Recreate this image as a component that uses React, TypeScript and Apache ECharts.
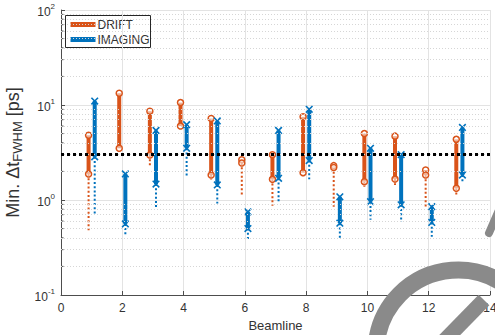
import React, { useEffect, useRef } from "react";
import * as echarts from "echarts";

const beamlines = [1, 2, 3, 4, 5, 6, 7, 8, 9, 10, 11, 12, 13];
const driftTop = [4.8, 13.3, 8.6, 10.6, 7.2, 2.65, 3.0, 7.5, 2.3, 5.0, 4.7, 2.07, 4.35];
const driftBottom = [1.88, 3.5, 2.98, 6.0, 1.83, 2.45, 1.65, 1.94, 2.2, 1.56, 1.66, 1.83, 1.33];
const driftDottedLow: (number | null)[] = [0.48, null, 2.28, null, 1.63, 1.08, 0.87, null, 0.85, 1.38, 1.44, 0.85, 1.08];
const imagingTop = [11.0, 1.88, 5.4, 6.2, 6.8, 0.75, 5.4, 9.0, 1.08, 3.5, 3.0, 0.85, 5.8];
const imagingBottom = [2.85, 0.56, 1.47, 3.5, 1.44, 0.5, 1.69, 2.6, 0.57, 0.96, 0.89, 0.58, 1.83];
const imagingDottedLow: (number | null)[] = [0.7, 0.43, 0.84, 1.76, 0.92, 0.37, 0.92, 1.65, 0.39, 0.62, 0.59, 0.41, 1.56];
const threshold = 3;
const minorGrid = [0.2, 0.3, 0.4, 0.5, 0.6, 0.7, 0.8, 0.9, 2, 3, 4, 5, 6, 7, 8, 9, 20, 30, 40, 50, 60, 70, 80, 90];
const xTicks = { min: 0, max: 14, interval: 2 };
const legendNames = ["DRIFT", "IMAGING"];

const ORANGE = "#D95319";
const BLUE = "#0072BD";
const TEXT = "#333333";
const AXIS = "#4d4d4d";
const FONT = "Liberation Sans, Arial, sans-serif";

function makeRender(top: number[], bottom: number[], low: (number | null)[], color: string, marker: "o" | "x", dx: number) {
  return (params: any, api: any) => {
    const i = params.dataIndex;
    const x = api.value(0) + dx;
    const pTop = api.coord([x, top[i]]);
    const pBot = api.coord([x, bottom[i]]);
    const children: any[] = [];
    if (low[i] != null) {
      const pLow = api.coord([x, low[i]]);
      children.push({
        type: "line",
        shape: { x1: pBot[0], y1: pBot[1], x2: pLow[0], y2: pLow[1] },
        style: { stroke: color, lineWidth: 2, lineDash: [2, 2.2], fill: null },
      });
    }
    children.push({
      type: "line",
      shape: { x1: pTop[0], y1: pTop[1], x2: pBot[0], y2: pBot[1] },
      style: { stroke: color, lineWidth: 4, fill: null },
    });
    for (const p of [pTop, pBot]) {
      if (marker === "o") {
        children.push({
          type: "circle",
          shape: { cx: p[0], cy: p[1], r: 3 },
          style: { fill: "rgba(255,255,255,0.55)", stroke: color, lineWidth: 1.5 },
        });
      } else {
        const s = 3.3;
        children.push({ type: "line", shape: { x1: p[0] - s, y1: p[1] - s, x2: p[0] + s, y2: p[1] + s }, style: { stroke: color, lineWidth: 1.6 } });
        children.push({ type: "line", shape: { x1: p[0] - s, y1: p[1] + s, x2: p[0] + s, y2: p[1] - s }, style: { stroke: color, lineWidth: 1.6 } });
      }
    }
    return { type: "group", children };
  };
}

function renderMinorTick(params: any, api: any) {
  const p = api.coord([api.value(0), api.value(1)]);
  return {
    type: "line",
    shape: { x1: p[0], y1: p[1], x2: p[0] + 2.5, y2: p[1] },
    style: { stroke: AXIS, lineWidth: 1 },
  };
}

export default function App() {
  const ref = useRef<HTMLDivElement>(null);
  useEffect(() => {
    if (!ref.current) return;
    const chart = echarts.init(ref.current, null, { renderer: "svg" });
    const driftData = beamlines.map((b, i) => [b, driftTop[i], driftBottom[i], driftDottedLow[i] ?? driftBottom[i]]);
    const imagingData = beamlines.map((b, i) => [b, imagingTop[i], imagingBottom[i], imagingDottedLow[i] ?? imagingBottom[i]]);
    const legendColors = [ORANGE, BLUE];
    chart.setOption({
      animation: false,
      backgroundColor: "#ffffff",
      textStyle: { fontFamily: FONT },
      grid: { left: 61, right: 5, top: 10, bottom: 40, containLabel: false, outerBoundsMode: "none" },
      xAxis: {
        type: "value",
        min: xTicks.min,
        max: xTicks.max,
        interval: xTicks.interval,
        name: "Beamline",
        nameLocation: "middle",
        nameGap: 24,
        nameTextStyle: { fontSize: 13, color: TEXT },
        axisLine: { show: true, lineStyle: { color: AXIS, width: 1 } },
        axisTick: { show: true, inside: true, length: 4, lineStyle: { color: AXIS } },
        axisLabel: { fontSize: 12, color: TEXT, margin: 7, hideOverlap: false },
        splitLine: { show: true, lineStyle: { color: "#e3e3e3", width: 1 } },
      },
      yAxis: {
        type: "log",
        logBase: 10,
        min: 0.1,
        max: 100,
        name: "Min. Δt{sub|FWHM} [ps]",
        nameLocation: "middle",
        nameGap: 30,
        nameRotate: 90,
        nameTextStyle: {
          fontSize: 18,
          color: TEXT,
          rich: {
            sub: { fontSize: 13, color: TEXT, padding: [8, 0, 0, 0] },
          },
        },
        axisLine: { show: true, lineStyle: { color: AXIS, width: 1 } },
        axisTick: { show: true, inside: true, length: 4, lineStyle: { color: AXIS } },
        axisLabel: {
          color: TEXT,
          margin: 6,
          formatter: (v: number) => `{b|10}{s|${Math.round(Math.log10(v))}}`,
          rich: {
            b: { fontSize: 12, color: TEXT, lineHeight: 16, verticalAlign: "bottom" },
            s: { fontSize: 8, color: TEXT, lineHeight: 16, verticalAlign: "top" },
          },
        },
        splitLine: { show: true, lineStyle: { color: "#e3e3e3", width: 1 } },
      },
      series: [
        {
          name: "minorGrid",
          type: "line",
          data: [],
          silent: true,
          z: 0,
          markLine: {
            silent: true,
            symbol: "none",
            label: { show: false },
            lineStyle: { color: "#d6d6d6", type: [1, 2], width: 1 },
            data: minorGrid.map((v) => ({ yAxis: v })),
          },
        },
        {
          name: "minorTicks",
          type: "custom",
          silent: true,
          encode: { x: 0, y: 1 },
          data: minorGrid.map((v) => [xTicks.min, v]),
          z: 2,
          renderItem: renderMinorTick,
        },
        {
          name: legendNames[0],
          type: "custom",
          itemStyle: { color: ORANGE },
          encode: { x: 0, y: [1, 2, 3] },
          data: driftData,
          z: 3,
          renderItem: makeRender(driftTop, driftBottom, driftDottedLow, ORANGE, "o", -0.1),
        },
        {
          name: legendNames[1],
          type: "custom",
          itemStyle: { color: BLUE },
          encode: { x: 0, y: [1, 2, 3] },
          data: imagingData,
          z: 3,
          renderItem: makeRender(imagingTop, imagingBottom, imagingDottedLow, BLUE, "x", 0.1),
        },
        {
          name: "threshold",
          type: "line",
          data: [],
          silent: true,
          z: 5,
          markLine: {
            silent: true,
            symbol: "none",
            label: { show: false },
            lineStyle: { color: "#000000", type: [3, 3], width: 3 },
            data: [{ yAxis: threshold }],
          },
        },
      ],
      graphic: [
        {
          type: "group",
          left: 65,
          top: 15,
          z: 50,
          children: [
            {
              type: "rect",
              shape: { x: 0, y: 0, width: 85, height: 32 },
              style: { fill: "#ffffff", stroke: "#262626", lineWidth: 1 },
            },
            ...legendNames.flatMap((n, i) => [
              {
                type: "line",
                shape: { x1: 5, y1: 9 + i * 15, x2: 30, y2: 9 + i * 15 },
                style: { stroke: legendColors[i], lineWidth: 5 },
              },
              {
                type: "text",
                x: 32,
                y: 9 + i * 15,
                style: { text: n, fontSize: 12, fill: TEXT, fontFamily: FONT, verticalAlign: "middle" },
              },
            ]),
          ],
        },
        {
          type: "arc",
          z: 100,
          shape: { cx: 458, cy: 352, r: 82, startAngle: Math.PI * 1.02, endAngle: Math.PI * 1.93, clockwise: true },
          style: { stroke: "#8a8a8a", lineWidth: 17, fill: null },
        },
        {
          type: "line",
          z: 100,
          shape: { x1: 440, y1: 345, x2: 484, y2: 300 },
          style: { stroke: "#8a8a8a", lineWidth: 15 },
        },
        {
          type: "line",
          z: 100,
          shape: { x1: 489, y1: 233, x2: 499, y2: 210 },
          style: { stroke: "#8a8a8a", lineWidth: 8, lineCap: "round" },
        },
      ],
    });
    return () => chart.dispose();
  }, []);
  return <div ref={ref} style={{ position: "fixed", left: 0, top: 0, width: 495, height: 335 }} />;
}
